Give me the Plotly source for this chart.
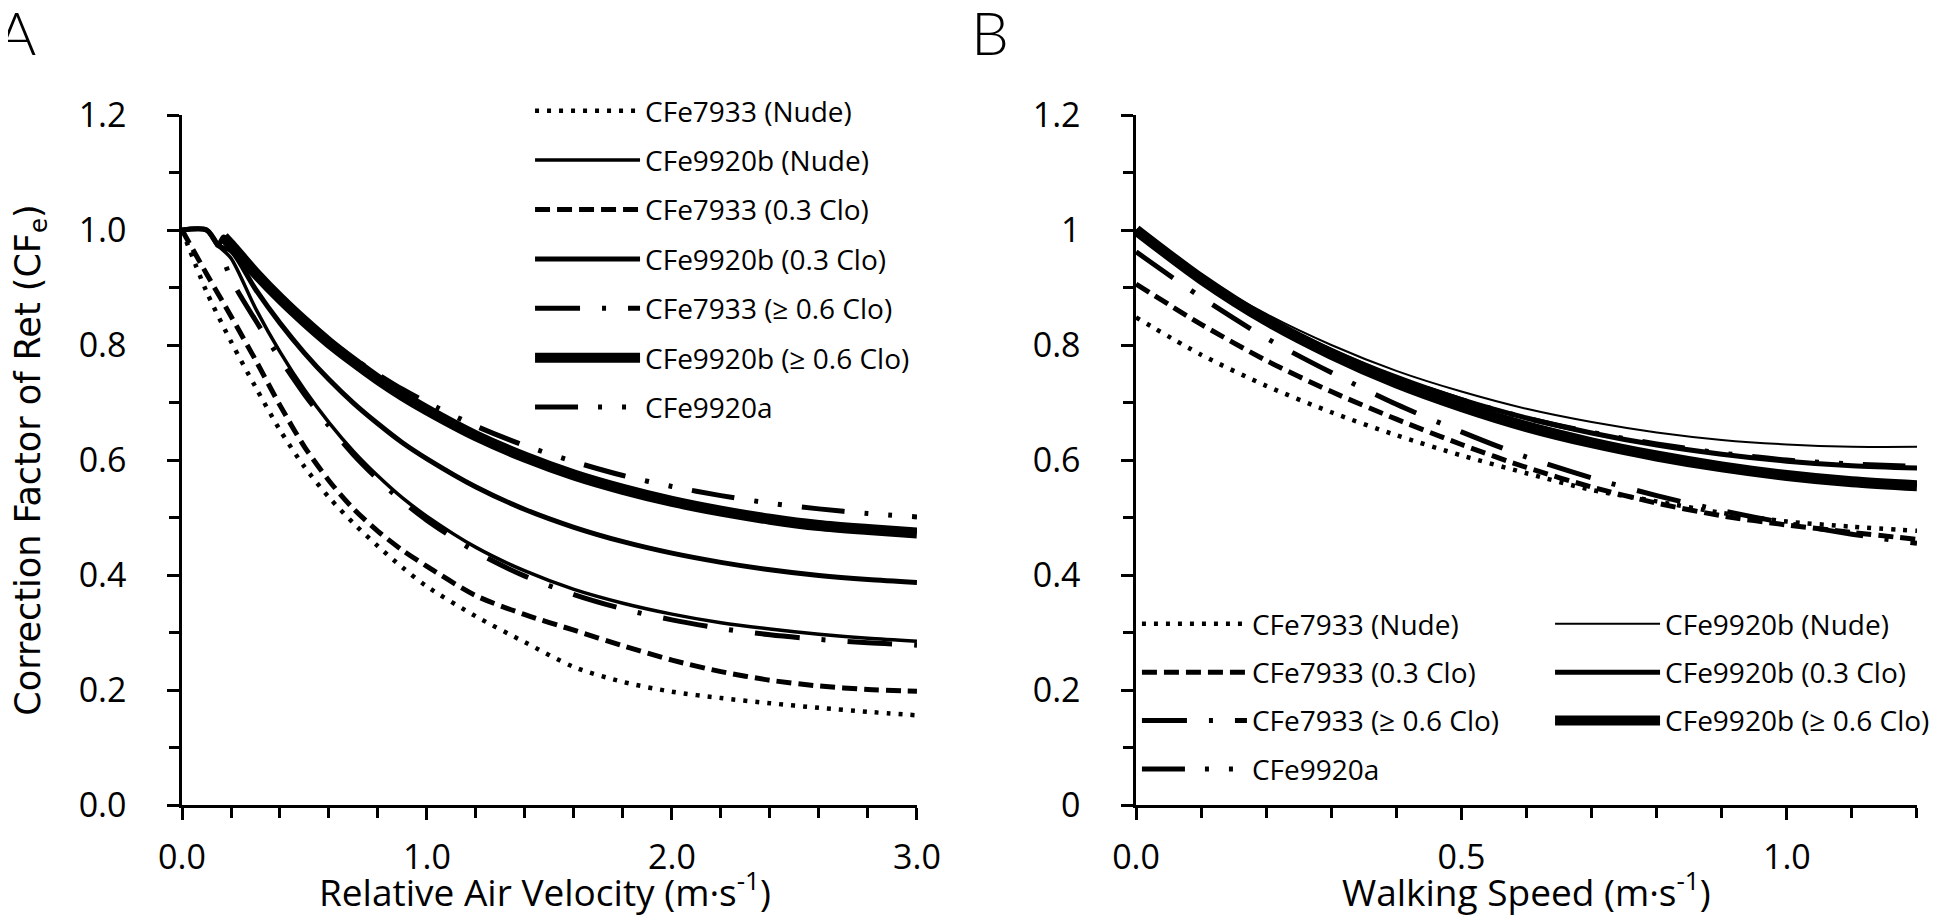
import plotly.graph_objects as go

# ---- Panel A: correction factor vs relative air velocity (m/s) ----
A_X = [0, 0.1, 0.2, 0.3, 0.4, 0.5, 0.6, 0.7, 0.8, 0.9, 1.0,
       1.2, 1.4, 1.6, 1.8, 2.0, 2.2, 2.4, 2.6, 2.8, 3.0]
A_X_KINK = [0, 0.1, 0.15, 0.2, 0.3, 0.4, 0.5, 0.6, 0.7, 0.8, 0.9, 1.0,
            1.2, 1.4, 1.6, 1.8, 2.0, 2.2, 2.4, 2.6, 2.8, 3.0]
A_X_THICK = [0.17, 0.2, 0.3, 0.4, 0.5, 0.6, 0.7, 0.8, 0.9, 1.0,
             1.2, 1.4, 1.6, 1.8, 2.0, 2.2, 2.4, 2.6, 2.8, 3.0]
A_X_9920A = [0.15, 0.17, 0.2, 0.3, 0.4, 0.5, 0.6, 0.7, 0.8, 0.9, 1.0,
             1.2, 1.4, 1.6, 1.8, 2.0, 2.2, 2.4, 2.6, 2.8, 3.0]

a_7933_nude = [1.0, 0.893, 0.806, 0.727, 0.652, 0.588, 0.535, 0.490, 0.450, 0.413, 0.380,
               0.328, 0.283, 0.240, 0.214, 0.197, 0.186, 0.177, 0.169, 0.162, 0.156]
a_9920b_nude = [1.0, 1.0, 0.972, 0.951, 0.864, 0.788, 0.722, 0.665, 0.615, 0.572, 0.534, 0.502,
                0.448, 0.407, 0.375, 0.351, 0.332, 0.317, 0.306, 0.297, 0.290, 0.285]
a_7933_03 = [1.0, 0.924, 0.850, 0.774, 0.695, 0.623, 0.564, 0.515, 0.476, 0.443, 0.415,
             0.364, 0.331, 0.304, 0.277, 0.252, 0.232, 0.217, 0.207, 0.201, 0.198]
a_9920b_03 = [1.0, 1.0, 0.972, 0.964, 0.897, 0.838, 0.786, 0.740, 0.699, 0.663, 0.630, 0.602,
              0.553, 0.514, 0.483, 0.458, 0.438, 0.422, 0.409, 0.399, 0.392, 0.387]
a_7933_06 = [1.0, 1.0, 0.970, 0.915, 0.843, 0.776, 0.714, 0.659, 0.609, 0.566, 0.528, 0.495,
             0.440, 0.398, 0.366, 0.341, 0.322, 0.307, 0.296, 0.288, 0.282, 0.278]
a_9920b_06 = [0.988, 0.974, 0.925, 0.881, 0.841, 0.804, 0.771, 0.740, 0.712, 0.687,
              0.642, 0.605, 0.574, 0.549, 0.528, 0.511, 0.497, 0.486, 0.479, 0.473]
a_9920a = [0.972, 0.988, 0.975, 0.927, 0.883, 0.844, 0.809, 0.777, 0.749, 0.723, 0.700,
           0.659, 0.625, 0.597, 0.573, 0.554, 0.538, 0.525, 0.515, 0.507, 0.501]

# ---- Panel B: correction factor vs walking speed (m/s) ----
B_X = [0, 0.1, 0.2, 0.3, 0.4, 0.5, 0.6, 0.7, 0.8, 0.9, 1.0, 1.1, 1.2]

b_7933_nude = [0.848, 0.783, 0.729, 0.683, 0.643, 0.608, 0.577, 0.548, 0.528, 0.508, 0.493, 0.484, 0.477]
b_9920b_nude = [1.0, 0.920, 0.854, 0.800, 0.755, 0.719, 0.689, 0.666, 0.648, 0.635, 0.627, 0.623, 0.623]
b_7933_03 = [0.906, 0.836, 0.773, 0.719, 0.671, 0.627, 0.587, 0.553, 0.525, 0.503, 0.487, 0.474, 0.462]
b_9920b_03 = [1.0, 0.917, 0.848, 0.791, 0.744, 0.705, 0.673, 0.647, 0.626, 0.610, 0.598, 0.590, 0.586]
b_7933_06 = [0.962, 0.883, 0.812, 0.752, 0.697, 0.649, 0.605, 0.569, 0.538, 0.512, 0.490, 0.471, 0.455]
b_9920b_06 = [1.0, 0.915, 0.843, 0.784, 0.734, 0.693, 0.658, 0.630, 0.607, 0.588, 0.573, 0.562, 0.555]
b_9920a = [1.0, 0.916, 0.847, 0.790, 0.743, 0.705, 0.673, 0.648, 0.628, 0.612, 0.600, 0.593, 0.589]

Y_TICKS = [0, 0.2, 0.4, 0.6, 0.8, 1.0, 1.2]
A_Y_LABELS = ["0.0", "0.2", "0.4", "0.6", "0.8", "1.0", "1.2"]
B_Y_LABELS = ["0", "0.2", "0.4", "0.6", "0.8", "1", "1.2"]
A_X_TICKS = [0, 1, 2, 3]
A_X_LABELS = ["0.0", "1.0", "2.0", "3.0"]
B_X_TICKS = [0, 0.5, 1.0]
B_X_LABELS = ["0.0", "0.5", "1.0"]

FONT = "Open Sans"
DOT = "4px,8px"
DASH = "15px,7px"
DASHDOT = "45px,22px,4px,22px"
DASHDOTDOT = "43px,20px,4px,20px,4px,20px"

fig = go.Figure()


def add_curve(x, y, name, dash, width, xaxis, yaxis, legend, group):
    fig.add_trace(go.Scatter(
        x=x, y=y, name=name, mode="lines",
        line=dict(color="black", width=width, dash=dash, shape="spline", smoothing=0.8),
        xaxis=xaxis, yaxis=yaxis, legend=legend, legendgroup=group, hoverinfo="skip"))


# panel A, one legend column
add_curve(A_X, a_7933_nude, "CFe7933 (Nude)", DOT, 4.5, "x", "y", "legend", "a1")
add_curve(A_X_KINK, a_9920b_nude, "CFe9920b (Nude)", "solid", 3.5, "x", "y", "legend", "a2")
add_curve(A_X, a_7933_03, "CFe7933 (0.3 Clo)", DASH, 5, "x", "y", "legend", "a3")
add_curve(A_X_KINK, a_9920b_03, "CFe9920b (0.3 Clo)", "solid", 5, "x", "y", "legend", "a4")
add_curve(A_X_KINK, a_7933_06, "CFe7933 (≥ 0.6 Clo)", DASHDOT, 5, "x", "y", "legend", "a5")
add_curve(A_X_THICK, a_9920b_06, "CFe9920b (≥ 0.6 Clo)", "solid", 11, "x", "y", "legend", "a6")
add_curve(A_X_9920A, a_9920a, "CFe9920a", DASHDOTDOT, 5, "x", "y", "legend", "a7")

# panel B, two legend columns
add_curve(B_X, b_7933_nude, "CFe7933 (Nude)", DOT, 4.5, "x2", "y2", "legend2", "b1")
add_curve(B_X, b_9920b_nude, "CFe9920b (Nude)", "solid", 2, "x2", "y2", "legend3", "b2")
add_curve(B_X, b_7933_03, "CFe7933 (0.3 Clo)", DASH, 5, "x2", "y2", "legend2", "b3")
add_curve(B_X, b_9920b_03, "CFe9920b (0.3 Clo)", "solid", 5, "x2", "y2", "legend3", "b4")
add_curve(B_X, b_7933_06, "CFe7933 (≥ 0.6 Clo)", DASHDOT, 5, "x2", "y2", "legend2", "b5")
add_curve(B_X, b_9920b_06, "CFe9920b (≥ 0.6 Clo)", "solid", 11, "x2", "y2", "legend3", "b6")
add_curve(B_X, b_9920a, "CFe9920a", DASHDOTDOT, 5, "x2", "y2", "legend2", "b7")

tick_font = dict(family=FONT, size=34, color="black")
axis_style = dict(
    showline=True, linecolor="black", linewidth=2.5,
    ticks="outside", ticklen=12, tickwidth=2.5, tickcolor="black",
    showgrid=False, zeroline=False, tickfont=tick_font, fixedrange=True,
)


def minor(step):
    return dict(dtick=step, tick0=0, ticks="outside", ticklen=10, tickwidth=2.5,
                tickcolor="black", showgrid=False)


legend_style = dict(
    xanchor="left", yanchor="top", bgcolor="rgba(0,0,0,0)",
    font=dict(family=FONT, size=28, color="black"),
    itemwidth=105, itemclick=False, itemdoubleclick=False,
)

title_font = dict(family=FONT, size=37, color="black")
letter_font = dict(family="Lato", size=60, color="black", weight=300)

fig.update_layout(
    width=1946, height=921,
    margin=dict(l=174, r=37, t=107, b=124, autoexpand=False),
    paper_bgcolor="white", plot_bgcolor="white",
    xaxis=dict(axis_style, domain=[0, 0.4236], range=[0, 3], anchor="y",
               tickmode="array", tickvals=A_X_TICKS, ticktext=A_X_LABELS, minor=minor(0.2),
               ticklabelstandoff=8),
    yaxis=dict(axis_style, domain=[0, 1], range=[0, 1.2], anchor="x",
               tickmode="array", tickvals=Y_TICKS, ticktext=A_Y_LABELS, minor=minor(0.1),
               ticklabelstandoff=34,
               title=dict(text="Correction Factor of Ret (CF<sub>e</sub>)", standoff=45,
                          font=dict(family="DejaVu Sans", size=35, color="black"))),
    xaxis2=dict(axis_style, domain=[0.5499, 1.0], range=[0, 1.2], anchor="y2",
                tickmode="array", tickvals=B_X_TICKS, ticktext=B_X_LABELS, minor=minor(0.1),
                ticklabelstandoff=8),
    yaxis2=dict(axis_style, domain=[0, 1], range=[0, 1.2], anchor="x2",
                tickmode="array", tickvals=Y_TICKS, ticktext=B_Y_LABELS, minor=minor(0.1),
                ticklabelstandoff=34),
    legend=dict(legend_style, x=0.2006, y=1.042, tracegroupgap=10),
    legend2=dict(legend_style, x=0.5504, y=0.2985, tracegroupgap=9),
    legend3=dict(legend_style, x=0.7885, y=0.2985, tracegroupgap=9),
    annotations=[
        dict(text="Relative Air Velocity (m·s<sup>-1</sup>)", xref="paper", yref="paper",
             x=0.209, y=-0.123, xanchor="center", yanchor="middle", showarrow=False,
             font=title_font),
        dict(text="Walking Speed (m·s<sup>-1</sup>)", xref="paper", yref="paper",
             x=0.7747, y=-0.123, xanchor="center", yanchor="middle", showarrow=False,
             font=title_font),
        dict(text="A", xref="paper", yref="paper", x=-0.1075, y=1.121,
             xanchor="left", yanchor="middle", showarrow=False, font=letter_font),
        dict(text="B", xref="paper", yref="paper", x=0.4536, y=1.121,
             xanchor="left", yanchor="middle", showarrow=False, font=letter_font),
    ],
)

fig.write_html("out.html")
